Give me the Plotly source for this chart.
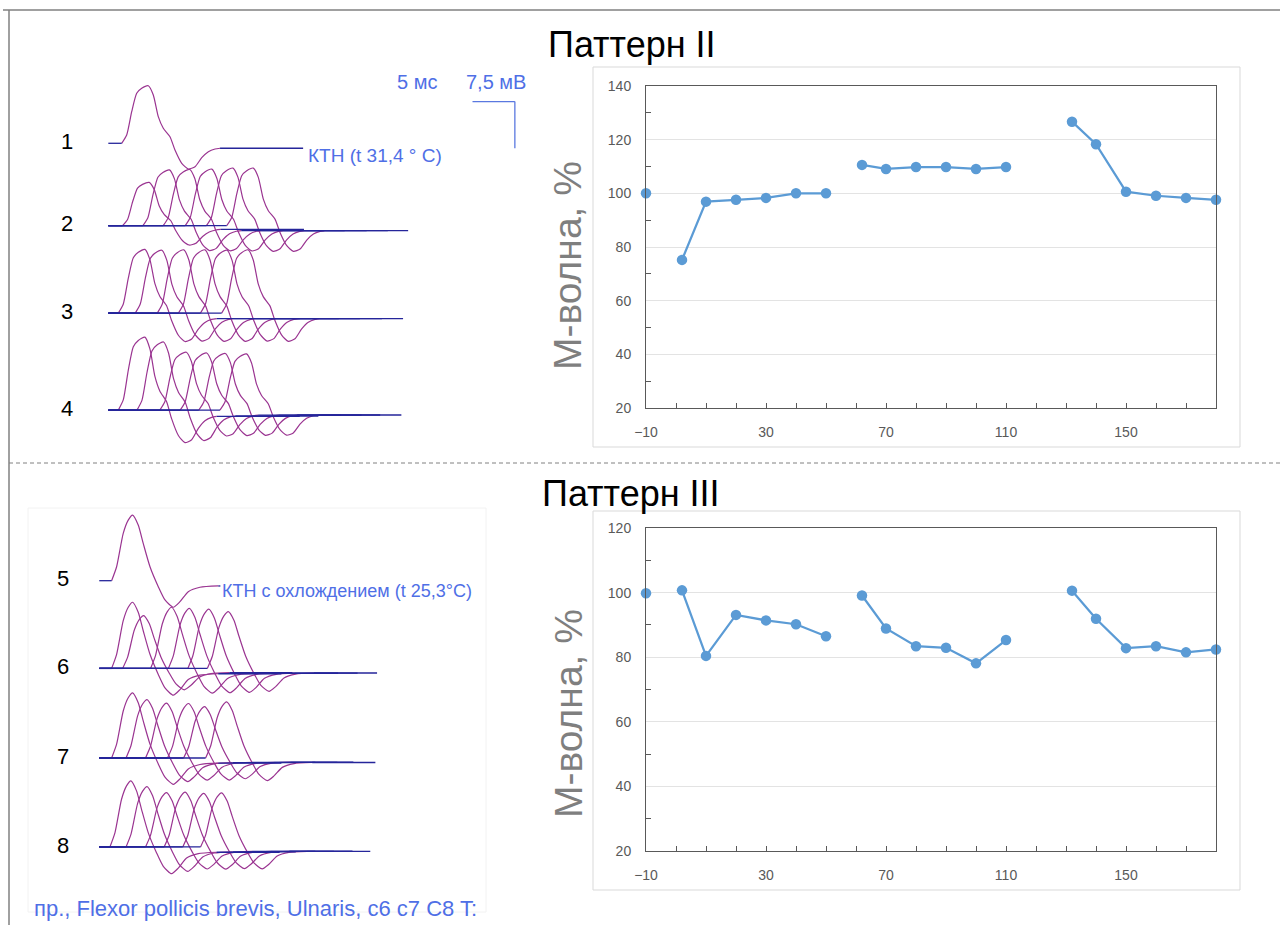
import plotly.graph_objects as go

W, H = 1280, 925

# ---------------- chart data (M-wave, %) ----------------
x_base = [-10]
x_seg1 = [2, 10, 20, 30, 40, 50]
x_seg2 = [62, 70, 80, 90, 100, 110]
x_seg3 = [132, 140, 150, 160, 170, 180]

p2_base = [100.0]
p2_seg1 = [75.2, 96.9, 97.6, 98.3, 100.0, 100.0]
p2_seg2 = [110.6, 109.1, 109.8, 109.8, 109.1, 109.8]
p2_seg3 = [126.7, 118.3, 100.6, 99.1, 98.3, 97.6]

p3_base = [99.8]
p3_seg1 = [100.7, 80.4, 93.1, 91.4, 90.2, 86.5]
p3_seg2 = [99.1, 88.9, 83.4, 82.9, 78.1, 85.3]
p3_seg3 = [100.6, 91.9, 82.8, 83.4, 81.5, 82.4]

x_tickvals = [-10, 30, 70, 110, 150]

# ---------------- waveform data (ms, mV) ----------------
tmpl_top_t = [0, 1.58, 2.17, 2.76, 3.35, 3.94, 4.72, 5.31, 5.90, 6.49, 7.28,
              7.87, 8.67, 9.45, 10.24, 11.03, 11.81, 12.6, 13.19]
tmpl_top_v = [0, 0, 1.33, 5.08, 8.04, 8.84, 9.26, 7.77, 4.28, 2.41, 1.06,
              -1.08, -3.22, -4.13, -3.76, -2.32, -1.35, -0.92, -0.80]
tmpl_bot_t = [0, 1.46, 2.05, 2.83, 3.42, 3.94, 4.60, 5.19, 5.99, 6.97, 7.76,
              8.74, 9.53, 10.51, 11.89, 14.05]
tmpl_bot_v = [0, 0, 2.25, 7.62, 9.76, 10.56, 8.96, 6.01, 2.25, -0.96, -3.10,
              -4.28, -3.38, -1.77, -1.06, -0.85]

# baselines of rows 1-4 and 5-8 (mV)
top_row_base = [0.0, -13.25, -27.3, -42.9]
bot_row_base = [0.0, -14.1, -28.5, -42.8]
# latency shift of each of the 6 responses in a row (ms)
top_shift = [[0.0],
             [0.1, 2.5, 4.9, 7.5, 10.0, 12.4],
             [-0.4, 1.6, 4.2, 6.7, 9.3, 11.8],
             [-0.4, 1.8, 4.5, 6.9, 9.1, 11.6]]
bot_shift = [[0.0],
             [0.0, 1.3, 4.6, 6.7, 9.0, 11.3],
             [0.0, 1.7, 4.0, 6.6, 8.5, 11.1],
             [-0.2, 1.7, 4.0, 6.2, 8.4, 10.5]]
top_amp = [p2_base, p2_seg1, p2_seg2, p2_seg3]
bot_amp = [p3_base, p3_seg1, p3_seg2, p3_seg3]
top_len = [23.0, 23.0, 23.0, 23.0]
bot_len = [14.3, 21.5, 21.5, 21.5]
top_labels = ["1", "2", "3", "4"]
bot_labels = ["5", "6", "7", "8"]

scale_ms = 5
scale_mv = 7.5

# ---------------- helpers ----------------
def px(x):
    return x / W


def py(y):
    return 1 - y / H


def build_waves(tt, tv, bases, shifts, amps, lens):
    nx, ny, wx, wy = [], [], [], []
    for r, base in enumerate(bases):
        for s, a in zip(shifts[r], amps[r]):
            a = a / 100.0
            start = s + tt[1]
            nx += [0, max(start, 0), None]
            ny += [base, base, None]
            for t, v in zip(tt[1:], tv[1:]):
                wx.append(s + t)
                wy.append(base + a * v)
            wx.append(None)
            wy.append(None)
            endv = base + a * tv[-1]
            nx += [s + tt[-1], s + lens[r], None]
            ny += [endv, endv, None]
    return nx, ny, wx, wy


fig = go.Figure()

NAVY = "#25259a"
PURPLE = "#9a3491"
BLUE_TXT = "#4f6fe6"

for (tt, tv, bases, shifts, amps, lens, xa, ya) in [
        (tmpl_top_t, tmpl_top_v, top_row_base, top_shift, top_amp, top_len, "x3", "y3"),
        (tmpl_bot_t, tmpl_bot_v, bot_row_base, bot_shift, bot_amp, bot_len, "x4", "y4")]:
    nx, ny, wx, wy = build_waves(tt, tv, bases, shifts, amps, lens)
    fig.add_trace(go.Scatter(x=wx, y=wy, mode="lines", xaxis=xa, yaxis=ya,
                             line=dict(color=PURPLE, width=1.2, shape="spline", smoothing=0.6),
                             showlegend=False, hoverinfo="skip"))
    fig.add_trace(go.Scatter(x=nx, y=ny, mode="lines", xaxis=xa, yaxis=ya,
                             line=dict(color=NAVY, width=1.3), showlegend=False,
                             hoverinfo="skip"))

MARK = "#5b9bd5"
for (segs, xa, ya) in [
        ([(x_base, p2_base), (x_seg1, p2_seg1), (x_seg2, p2_seg2), (x_seg3, p2_seg3)], "x", "y"),
        ([(x_base, p3_base), (x_seg1, p3_seg1), (x_seg2, p3_seg2), (x_seg3, p3_seg3)], "x2", "y2")]:
    xs, ys = [], []
    for sx, sy in segs:
        xs += list(sx) + [None]
        ys += list(sy) + [None]
    fig.add_trace(go.Scatter(x=xs, y=ys, mode="lines+markers", xaxis=xa, yaxis=ya,
                             line=dict(color=MARK, width=2.25),
                             marker=dict(color=MARK, size=10.5),
                             cliponaxis=False, showlegend=False, connectgaps=False))

TICKC = "#595959"
tickfont = dict(family="Liberation Sans", size=14, color=TICKC)


def xax(dom):
    return dict(domain=dom, range=[-10, 180], tickvals=x_tickvals, ticks="inside",
                ticklen=5, tickcolor=TICKC, showline=True, linecolor=TICKC, linewidth=1,
                mirror=True, showgrid=False, zeroline=False, tickfont=tickfont,
                ticklabelstandoff=11, automargin=False,
                minor=dict(dtick=10, tick0=-10, ticks="inside", ticklen=5,
                           tickcolor=TICKC, showgrid=False),
                fixedrange=True)


def yax(dom, rng):
    return dict(domain=dom, range=rng, dtick=20, tick0=20, showline=True,
                linecolor=TICKC, linewidth=1, mirror=True, showgrid=True,
                gridcolor="#e3e3e3", gridwidth=1, zeroline=False, tickfont=tickfont,
                ticks="", ticklabelstandoff=11, automargin=False,
                minor=dict(dtick=10, tick0=10, ticks="inside", ticklen=5,
                           tickcolor=TICKC, showgrid=False),
                fixedrange=True)


plot_x = [px(646), px(1216)]
fig.update_layout(
    width=W, height=H,
    margin=dict(l=0, r=0, t=0, b=0, pad=0, autoexpand=False),
    paper_bgcolor="white", plot_bgcolor="white",
    xaxis=dict(**xax(plot_x), anchor="y"),
    yaxis=dict(**yax([py(408), py(86)], [20, 140]), anchor="x"),
    xaxis2=dict(**xax(plot_x), anchor="y2"),
    yaxis2=dict(**yax([py(851), py(528)], [20, 120]), anchor="x2"),
    xaxis3=dict(domain=[0, px(560)], range=[-12.79, 53.33], visible=False,
                anchor="y3", fixedrange=True, automargin=False),
    yaxis3=dict(domain=[py(463), py(10)], range=[-51.4, 21.43], visible=False,
                anchor="x3", fixedrange=True, automargin=False),
    xaxis4=dict(domain=[0, px(560)], range=[-11.72, 54.4], visible=False,
                anchor="y4", fixedrange=True, automargin=False),
    yaxis4=dict(domain=[0, py(463)], range=[-55.35, 18.92], visible=False,
                anchor="x4", fixedrange=True, automargin=False),
)

shapes = []
shapes.append(dict(type="line", xref="paper", yref="paper", x0=px(3), x1=1, y0=py(10), y1=py(10),
                   line=dict(color="#808080", width=1.5)))
shapes.append(dict(type="line", xref="paper", yref="paper", x0=px(9), x1=px(9), y0=py(10), y1=0,
                   line=dict(color="#808080", width=1.5)))
shapes.append(dict(type="line", xref="paper", yref="paper", x0=px(9), x1=1, y0=py(463), y1=py(463),
                   line=dict(color="#808080", width=1, dash="4px,3px")))
for (y0, y1) in [(67, 447), (511, 890)]:
    shapes.append(dict(type="rect", xref="paper", yref="paper", x0=px(593), x1=px(1240),
                       y0=py(y1), y1=py(y0), line=dict(color="#d9d9d9", width=1)))
shapes.append(dict(type="rect", xref="paper", yref="paper", x0=px(28), x1=px(486),
                   y0=py(912), y1=py(508), line=dict(color="#f2f2f2", width=1)))
bar_t, bar_v = 48.0, 6.7
shapes.append(dict(type="line", xref="x3", yref="y3", x0=bar_t - scale_ms, x1=bar_t,
                   y0=bar_v, y1=bar_v, line=dict(color="#5a78e0", width=1.3)))
shapes.append(dict(type="line", xref="x3", yref="y3", x0=bar_t, x1=bar_t,
                   y0=bar_v, y1=bar_v - scale_mv, line=dict(color="#5a78e0", width=1.3)))
fig.update_layout(shapes=shapes)

ann = []


def add_text(text, x, y, size, color, xanchor="center", xref="paper", yref="paper",
             angle=0):
    ann.append(dict(text=text, x=x, y=y, xref=xref, yref=yref, xanchor=xanchor,
                    yanchor="middle", showarrow=False, textangle=angle,
                    font=dict(family="Liberation Sans", size=size, color=color)))


add_text("Паттерн II", px(632), py(45), 36, "black")
add_text("Паттерн III", px(631), py(493), 36, "black")
for yc in [266, 714]:
    add_text("М-волна, %", px(568), py(yc), 39, "#7f7f7f", angle=-90)
for lab, b in zip(top_labels, top_row_base):
    add_text(lab, -4.9, b + 0.3, 22, "black", xref="x3", yref="y3")
for lab, b in zip(bot_labels, bot_row_base):
    add_text(lab, -4.3, b + 0.3, 22, "black", xref="x4", yref="y4")
add_text("5 мс", px(417), py(82), 20, BLUE_TXT)
add_text("7,5 мВ", px(496), py(82), 20, BLUE_TXT)
add_text("КТН (t 31,4 ° C)", px(306), py(155), 19, BLUE_TXT, xanchor="left")
add_text("КТН с охлождением (t 25,3°C)", px(220), py(591), 18, BLUE_TXT, xanchor="left")
add_text("пр., Flexor pollicis brevis, Ulnaris, c6 c7 C8 T:", px(32), py(908), 22, BLUE_TXT,
         xanchor="left")
fig.update_layout(annotations=ann)

fig.write_html("out.html")
